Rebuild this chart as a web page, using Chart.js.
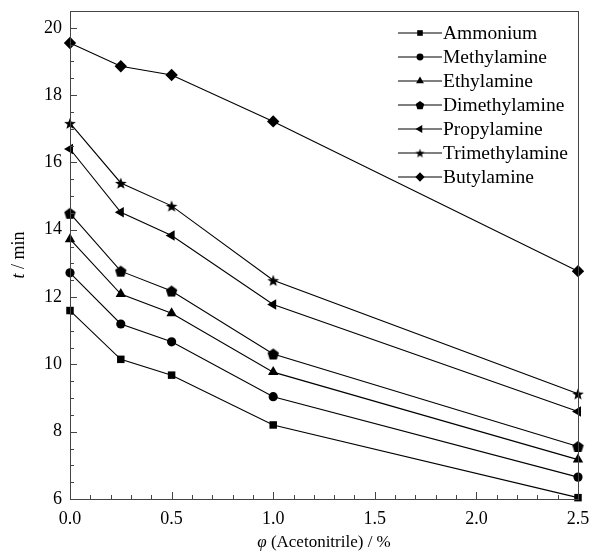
<!DOCTYPE html>
<html>
<head>
<meta charset="utf-8">
<script src="https://cdn.jsdelivr.net/npm/chart.js@4"></script>
<style>
  html, body { margin: 0; padding: 0; background: #fff; }
  #wrap { width: 590px; height: 554px; }
</style>
</head>
<body>
<div id="wrap"><canvas id="myChart" width="590" height="554"></canvas></div>
<script>
// Retention time vs acetonitrile fraction.

const xValues = [0, 0.25, 0.5, 1.0, 2.5];
const names = ["Ammonium", "Methylamine", "Ethylamine", "Dimethylamine",
               "Propylamine", "Trimethylamine", "Butylamine"];

const ammonium       = [11.60, 10.15, 9.68, 8.20, 6.04];
const methylamine    = [12.72, 11.20, 10.67, 9.04, 6.65];
const ethylamine     = [13.72, 12.09, 11.52, 9.77, 7.17];
const dimethylamine  = [14.49, 12.77, 12.18, 10.31, 7.56];
const propylamine    = [16.40, 14.52, 13.83, 11.78, 8.60];
const trimethylamine = [17.17, 15.39, 14.71, 12.50, 9.13];
const butylamine     = [19.55, 18.86, 18.60, 17.22, 12.77];

const xTicks = [0, 0.5, 1.0, 1.5, 2.0, 2.5];
const yTicks = [6, 8, 10, 12, 14, 16, 18, 20];

const FONT = "'Liberation Serif', 'Times New Roman', serif";

// custom marker shapes (pentagon, filled star)
function shapeCanvas(size, draw) {
    const c = document.createElement("canvas");
    c.width = size; c.height = size;
    const g = c.getContext("2d");
    g.fillStyle = "#000";
    g.beginPath();
    draw(g, size / 2);
    g.closePath();
    g.fill();
    return c;
}
const pentagon = shapeCanvas(13, (g, m) => {
    for (let i = 0; i < 5; i++) {
        const a = -Math.PI / 2 + i * 2 * Math.PI / 5;
        const px = m + Math.cos(a) * 6, py = m + 0.6 + Math.sin(a) * 6;
        i ? g.lineTo(px, py) : g.moveTo(px, py);
    }
});
const star = shapeCanvas(14, (g, m) => {
    for (let i = 0; i < 10; i++) {
        const a = -Math.PI / 2 + i * Math.PI / 5;
        const r = i % 2 ? 2.6 : 6.2;
        const px = m + Math.cos(a) * r, py = m + 0.8 + Math.sin(a) * r;
        i ? g.lineTo(px, py) : g.moveTo(px, py);
    }
});
const pentagonSmall = shapeCanvas(10, (g, m) => {
    for (let i = 0; i < 5; i++) {
        const a = -Math.PI / 2 + i * 2 * Math.PI / 5;
        const px = m + Math.cos(a) * 4.5, py = m + 0.5 + Math.sin(a) * 4.5;
        i ? g.lineTo(px, py) : g.moveTo(px, py);
    }
});
const starSmall = shapeCanvas(11, (g, m) => {
    for (let i = 0; i < 10; i++) {
        const a = -Math.PI / 2 + i * Math.PI / 5;
        const r = i % 2 ? 2 : 4.8;
        const px = m + Math.cos(a) * r, py = m + 0.6 + Math.sin(a) * r;
        i ? g.lineTo(px, py) : g.moveTo(px, py);
    }
});

const series = [ammonium, methylamine, ethylamine, dimethylamine,
                propylamine, trimethylamine, butylamine];
const styles = [
    { pointStyle: "rect", pointRadius: 5.3 },
    { pointStyle: "circle", pointRadius: 4.6 },
    { pointStyle: "triangle", pointRadius: 6 },
    { pointStyle: pentagon, pointRadius: 6 },
    { pointStyle: "triangle", pointRadius: 6, pointRotation: -90 },
    { pointStyle: star, pointRadius: 7 },
    { pointStyle: "rectRot", pointRadius: 6.2 },
];
const legendStyles = ["rect", "circle", "triangle", pentagonSmall, "triangle", starSmall, "rectRot"];

const datasets = series.map((vals, i) => Object.assign({
    label: names[i],
    data: vals.map((v, j) => ({ x: xValues[j], y: v })),
    borderColor: "#000",
    backgroundColor: "#000",
    pointBackgroundColor: "#000",
    pointBorderColor: "#000",
    pointBorderWidth: 0,
    borderWidth: 1.1,
    clip: false,
}, styles[i]));

// frame, inward ticks, axis titles and legend
const framePlugin = {
    id: "frame",
    afterDraw(chart) {
        const ctx = chart.ctx;
        const a = chart.chartArea;
        const xs = chart.scales.x, ys = chart.scales.y;
        ctx.save();
        ctx.strokeStyle = "#444";
        ctx.lineWidth = 1;

        // x ticks: major every 0.5, minor every 0.1
        for (let k = 0; k <= 25; k++) {
            const v = k / 10;
            const px = Math.round(xs.getPixelForValue(v)) + 0.5;
            const len = k % 5 === 0 ? 7 : 4;
            ctx.beginPath();
            ctx.moveTo(px, a.bottom);
            ctx.lineTo(px, a.bottom - len);
            ctx.stroke();
        }
        // y ticks: major every 2, minor every 0.5
        for (let k = 12; k <= 41; k++) {
            const v = k / 2;
            const py = Math.round(ys.getPixelForValue(v)) + 0.5;
            const len = k % 4 === 0 ? 7 : 4;
            ctx.beginPath();
            ctx.moveTo(a.left, py);
            ctx.lineTo(a.left + len, py);
            ctx.stroke();
        }
        ctx.strokeRect(Math.round(a.left) + 0.5, Math.round(a.top) + 0.5,
                       Math.round(a.right - a.left), Math.round(a.bottom - a.top));

        // axis titles with italic symbols
        ctx.fillStyle = "#000";
        ctx.textBaseline = "middle";
        const titleY = 543;
        const p1 = "italic 17px " + FONT, p2 = "17px " + FONT;
        ctx.font = p1; const w1 = ctx.measureText("φ").width;
        ctx.font = p2; const w2 = ctx.measureText(" (Acetonitrile) / %").width;
        let tx = (a.left + a.right) / 2 - (w1 + w2) / 2;
        ctx.textAlign = "left";
        ctx.font = p1; ctx.fillText("φ", tx, titleY);
        ctx.font = p2; ctx.fillText(" (Acetonitrile) / %", tx + w1, titleY);

        ctx.save();
        ctx.translate(19, (a.top + a.bottom) / 2);
        ctx.rotate(-Math.PI / 2);
        const q1 = "italic 18px " + FONT, q2 = "18px " + FONT;
        ctx.font = q1; const t1 = ctx.measureText("t").width;
        ctx.font = q2; const t2 = ctx.measureText(" / min").width;
        let ty = -(t1 + t2) / 2;
        ctx.font = q1; ctx.fillText("t", ty, 0);
        ctx.font = q2; ctx.fillText(" / min", ty + t1, 0);
        ctx.restore();

        // legend
        const lx = a.right - 180;
        chart.data.datasets.forEach((ds, i) => {
            const ly = 33 + i * 24;
            ctx.strokeStyle = "#000";
            ctx.lineWidth = 1.1;
            ctx.beginPath();
            ctx.moveTo(lx, ly);
            ctx.lineTo(lx + 44, ly);
            ctx.stroke();
            ctx.fillStyle = "#000";
            Chart.helpers.drawPoint(ctx, {
                pointStyle: legendStyles[i],
                radius: ds.pointRadius * 0.75,
                rotation: ds.pointRotation || 0,
                borderWidth: 0,
            }, lx + 22, ly);
            ctx.font = "19.5px " + FONT;
            ctx.textAlign = "left";
            ctx.textBaseline = "middle";
            ctx.fillText(ds.label, lx + 45, ly + 1);
        });
        ctx.restore();
    }
};

new Chart(document.getElementById("myChart"), {
    type: "line",
    data: { datasets: datasets },
    options: {
        responsive: false,
        animation: false,
        events: [],
        layout: { autoPadding: false, padding: { top: 11, right: 12, left: 0, bottom: 0 } },
        plugins: { legend: { display: false }, tooltip: { enabled: false } },
        scales: {
            x: {
                type: "linear",
                min: 0,
                max: 2.5,
                afterBuildTicks: s => { s.ticks = xTicks.map(v => ({ value: v })); },
                afterFit: s => { s.height = 55; s.paddingLeft = 0; s.paddingRight = 0; },
                grid: { display: false, drawTicks: false },
                border: { display: false },
                ticks: {
                    padding: 9,
                    color: "#000",
                    font: { family: FONT, size: 18 },
                    callback: v => v.toFixed(1),
                },
            },
            y: {
                type: "linear",
                min: 6,
                max: 20.5,
                afterBuildTicks: s => { s.ticks = yTicks.map(v => ({ value: v })); },
                afterFit: s => { s.width = 70; s.paddingTop = 0; s.paddingBottom = 0; },
                grid: { display: false, drawTicks: false },
                border: { display: false },
                ticks: {
                    padding: 8,
                    color: "#000",
                    font: { family: FONT, size: 18 },
                },
            },
        },
    },
    plugins: [framePlugin],
});
</script>
</body>
</html>
